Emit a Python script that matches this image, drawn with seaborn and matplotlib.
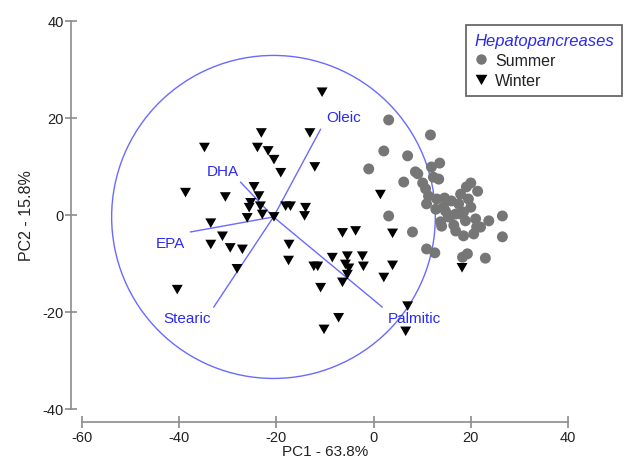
import numpy as np
import pandas as pd
import matplotlib
matplotlib.use("Agg")
import matplotlib.pyplot as plt
from matplotlib.patches import Circle
from matplotlib.lines import Line2D
import seaborn as sns

# PCA scores of hepatopancreas fatty-acid profiles
summer_pc1 = [3.1, 11.7, 2.1, 7.0, -1.0, 8.6, 11.9, 13.6, 6.2, 9.1, 13.4, 10.1, 10.7,
              11.3, 10.9, 13.0, 14.6, 16.0, 19.1, 21.4, 19.5, 20.0, 17.9, 15.8, 13.8,
              16.5, 18.9, 21.0, 23.7, 26.5, 22.0, 18.5, 20.6, 26.5, 3.1, 8.0, 10.9,
              12.6, 19.3, 18.3, 23.0, 16.9, 18.5, 15.4, 14.0, 21.2, 12.3, 14.4, 17.5,
              20.0, 17.9, 14.8, 16.9, 12.8]
summer_pc2 = [19.6, 16.5, 13.2, 12.2, 9.5, 8.9, 9.9, 10.7, 6.8, 8.5, 7.4, 6.6, 5.4,
              3.9, 2.3, 3.3, 3.5, 2.9, 5.8, 4.9, 3.3, 1.6, 0.2, -0.2, -1.4,
              -2.1, -1.2, -0.8, -1.2, -0.2, -2.5, -4.3, -3.9, -4.5, -0.2, -3.5, -7.0,
              -7.8, -8.0, -8.7, -8.9, 0.2, 0.6, -0.4, -2.3, -2.5, 7.8, 1.6, 2.3,
              6.6, 4.3, 0.8, -3.3, 1.2]

winter_pc1 = [-10.6, -23.1, -13.1, -34.8, -23.9, -21.7, -20.5, -19.1, -12.1, -38.7,
              -30.5, -24.6, -23.6, -25.3, -25.6, -23.3, -22.9, -26.0, -20.5, -18.1,
              -17.1, -14.0, -14.2, -33.5, -31.1, -33.5, -29.5, -27.0, -28.1, -40.4,
              -17.4, -17.5, -6.4, -3.7, 3.9, 1.4, -12.3, -11.5, -8.5, -5.4,
              -2.3, -5.8, -5.1, -2.1, 3.9, -5.4, -6.4, 2.1, -10.9, 7.0,
              -7.2, -10.2, 6.6, 18.2]
winter_pc2 = [25.4, 17.0, 17.0, 14.0, 14.0, 13.3, 11.5, 8.8, 10.0, 4.7,
              3.8, 5.9, 4.0, 2.6, 1.6, 1.9, 0.2, -0.5, -0.3, 1.9,
              1.9, 1.6, -0.1, -1.6, -4.3, -6.0, -6.7, -7.0, -11.0, -15.3,
              -6.0, -9.3, -3.6, -3.2, -3.7, 4.3, -10.5, -10.5, -8.7, -8.4,
              -8.4, -10.1, -10.9, -10.5, -10.3, -12.2, -13.8, -12.8, -14.9, -18.7,
              -21.1, -23.5, -23.9, -10.8]

# Fatty-acid loading vectors (drawn from the common origin)
loading_names = ["Oleic", "DHA", "EPA", "Stearic", "Palmitic"]
loading_pc1 = [-10.9, -27.4, -37.7, -32.9, 1.8]
loading_pc2 = [17.7, 6.8, -3.5, -19.0, -19.0]
origin = (-20.6, -0.4)
circle_radius = 33.3

seasons = ["Summer", "Winter"]

df = pd.DataFrame({
    "PC1": summer_pc1 + winter_pc1,
    "PC2": summer_pc2 + winter_pc2,
    "Season": ["Summer"] * len(summer_pc1) + ["Winter"] * len(winter_pc1),
})

sns.set_style("white")
plt.rcParams["font.family"] = ["Liberation Sans", "DejaVu Sans"]
plt.rcParams["axes.unicode_minus"] = False

fig = plt.figure(figsize=(6.28, 4.64), dpi=100)
ax = fig.add_axes([82 / 628, 1 - 410 / 464, 486 / 628, 388 / 464])

blue_text = "#2b2bf0"
blue_line = "#6a6aff"

# correlation circle
ax.add_patch(Circle(origin, circle_radius, fill=False, edgecolor=blue_line,
                    linewidth=1.0, zorder=1))

tri = [(-1.0, 0.8), (1.0, 0.8), (0.0, -0.95)]
sns.scatterplot(data=df, x="PC1", y="PC2", hue="Season", style="Season",
                hue_order=seasons, style_order=seasons,
                palette={"Summer": "#767676", "Winter": "#000000"},
                markers={"Summer": "o", "Winter": tri},
                s=62, linewidth=0, alpha=1.0, legend=False, ax=ax, zorder=3)

# loading vectors and labels
label_style = {
    "Oleic": ((4, 4), "left", "bottom"),
    "DHA": ((-1, 3), "right", "bottom"),
    "EPA": ((-4, -3), "right", "top"),
    "Stearic": ((-2, -3), "right", "top"),
    "Palmitic": ((4, -3), "left", "top"),
}
for name, lx, ly in zip(loading_names, loading_pc1, loading_pc2):
    ax.plot([origin[0], lx], [origin[1], ly], color=blue_line, linewidth=1.0, zorder=2)
    off, ha, va = label_style[name]
    ax.annotate(name, (lx, ly), xytext=off, textcoords="offset points",
                ha=ha, va=va, color=blue_text, fontsize=11, zorder=4)

ax.set_xlim(-60, 40)
ax.set_ylim(-40, 40)
ax.set_xticks([-60, -40, -20, 0, 20, 40])
ax.set_yticks([-40, -20, 0, 20, 40])
ax.set_xlabel("PC1 - 63.8%", fontsize=11, color="#222222", labelpad=0)
ax.set_ylabel("PC2 - 15.8%", fontsize=11.5, color="#222222", labelpad=6)

for side in ["top", "right"]:
    ax.spines[side].set_visible(False)
spine_color = "#8c8c8c"
ax.spines["left"].set_position(("outward", 8))
ax.spines["bottom"].set_position(("outward", 9))
ax.spines["left"].set_bounds(-40, 40)
ax.spines["bottom"].set_bounds(-60, 40)
for side in ["left", "bottom"]:
    ax.spines[side].set_color(spine_color)
    ax.spines[side].set_linewidth(1.2)
ax.tick_params(axis="both", bottom=True, left=True, direction="inout", length=8,
               width=1.2, color=spine_color, labelsize=10.5, labelcolor="#222222")
ax.tick_params(axis="x", pad=2)
ax.tick_params(axis="y", pad=1)

# legend
handles = [
    Line2D([], [], linestyle="none", marker="o", markersize=7.5,
           markerfacecolor="#767676", markeredgewidth=0),
    Line2D([], [], linestyle="none", marker=tri, markersize=8.5,
           markerfacecolor="#000000", markeredgewidth=0),
]
leg = ax.legend(handles, seasons, title="Hepatopancreases",
                loc="upper right", bbox_to_anchor=(622 / 628, 1 - 26 / 464),
                bbox_transform=fig.transFigure, borderaxespad=0,
                fancybox=False, frameon=True, fontsize=11.5, title_fontsize=12,
                handlelength=0.8, handletextpad=0.5, labelspacing=0.3,
                borderpad=0.5, alignment="left")
leg.get_frame().set_edgecolor("#444444")
leg.get_frame().set_linewidth(1.3)
leg.get_title().set_color(blue_text)
leg.get_title().set_style("italic")
for t in leg.get_texts():
    t.set_color("#222222")

fig.savefig("out.png", dpi=100)
